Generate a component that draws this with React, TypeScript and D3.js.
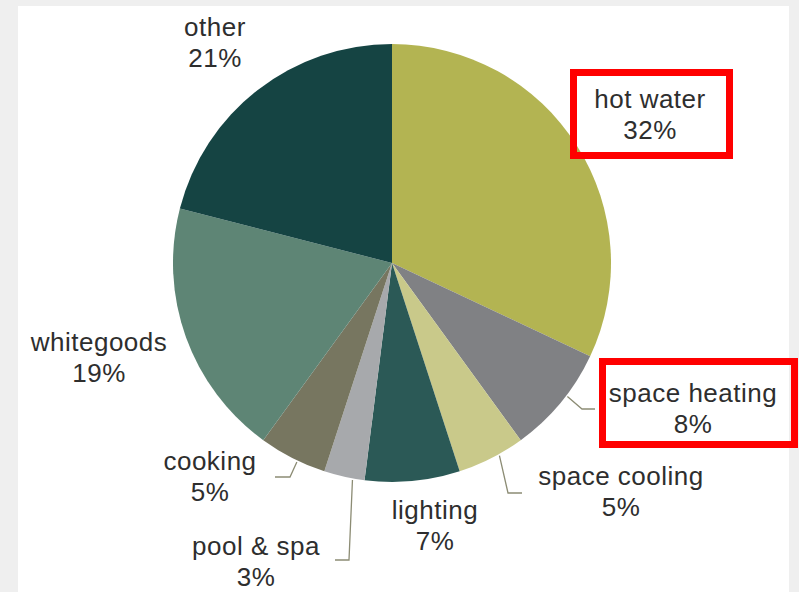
import React from "react";
import * as d3 from "d3";

const categories = ["hot water", "space heating", "space cooling", "lighting", "pool & spa", "cooking", "whitegoods", "other"];
const values = [32, 8, 5, 7, 3, 5, 19, 21];
const colors = ["#b3b452", "#808184", "#c9c98a", "#2b5956", "#a7a9ac", "#777660", "#5e8575", "#154443"];

// label layout: [x, baseline of first line]
const labelPos: [number, number][] = [
  [650, 108],
  [693, 402],
  [621, 485],
  [435, 519],
  [256, 555],
  [210, 470],
  [99, 351],
  [215, 36],
];
// leader: where along the slice (0..1) it starts, elbow point, end point
const leaders: ([number, number, number, number, number] | null)[] = [
  null,
  [0.42, 582, 409, 595, 409],
  [0.38, 508, 493, 522, 493],
  null,
  [0.29, 349, 560, 335, 560],
  [0.42, 290, 477, 275, 477],
  null,
  null,
];
const boxes: [number, number, number, number][] = [
  [573.5, 72.5, 156, 83],
  [602.5, 361.5, 192, 83],
];

export default function App() {
  const W = 799, H = 592;
  const cx = 392, cy = 263, R = 219;
  const pie = d3.pie<number>().sort(null).value((d) => d)(values);
  const arc = d3.arc<d3.PieArcDatum<number>>().innerRadius(0).outerRadius(R);
  return (
    <svg width={W} height={H} style={{ position: "absolute", left: 0, top: 0 }}>
      <rect x={0} y={0} width={W} height={H} fill="#efefef" />
      <rect x={18} y={6} width={771} height={H} fill="#ffffff" />
      <g transform={`translate(${cx},${cy})`}>
        {pie.map((p, i) => (
          <path key={i} d={arc(p) || ""} fill={colors[i]} />
        ))}
      </g>
      {pie.map((p, i) => {
        const l = leaders[i];
        if (!l) return null;
        const a = p.startAngle + (p.endAngle - p.startAngle) * l[0];
        const sx = cx + (R + 1.5) * Math.sin(a);
        const sy = cy - (R + 1.5) * Math.cos(a);
        return (
          <polyline
            key={"l" + i}
            points={`${sx},${sy} ${l[1]},${l[2]} ${l[3]},${l[4]}`}
            fill="none"
            stroke="#8c8c74"
            strokeWidth={1.3}
          />
        );
      })}
      {boxes.map((b, i) => (
        <rect key={"b" + i} x={b[0]} y={b[1]} width={b[2]} height={b[3]} fill="none" stroke="#ff0000" strokeWidth={7} />
      ))}
      {categories.map((c, i) => (
        <text
          key={"t" + i}
          x={labelPos[i][0]}
          y={labelPos[i][1]}
          textAnchor="middle"
          fontFamily="'Liberation Sans', Arial, sans-serif"
          fontSize={26}
          letterSpacing={0.5}
          fill="#2e2e2e"
        >
          <tspan x={labelPos[i][0]}>{c}</tspan>
          <tspan x={labelPos[i][0]} dy={31}>{values[i]}%</tspan>
        </text>
      ))}
    </svg>
  );
}
